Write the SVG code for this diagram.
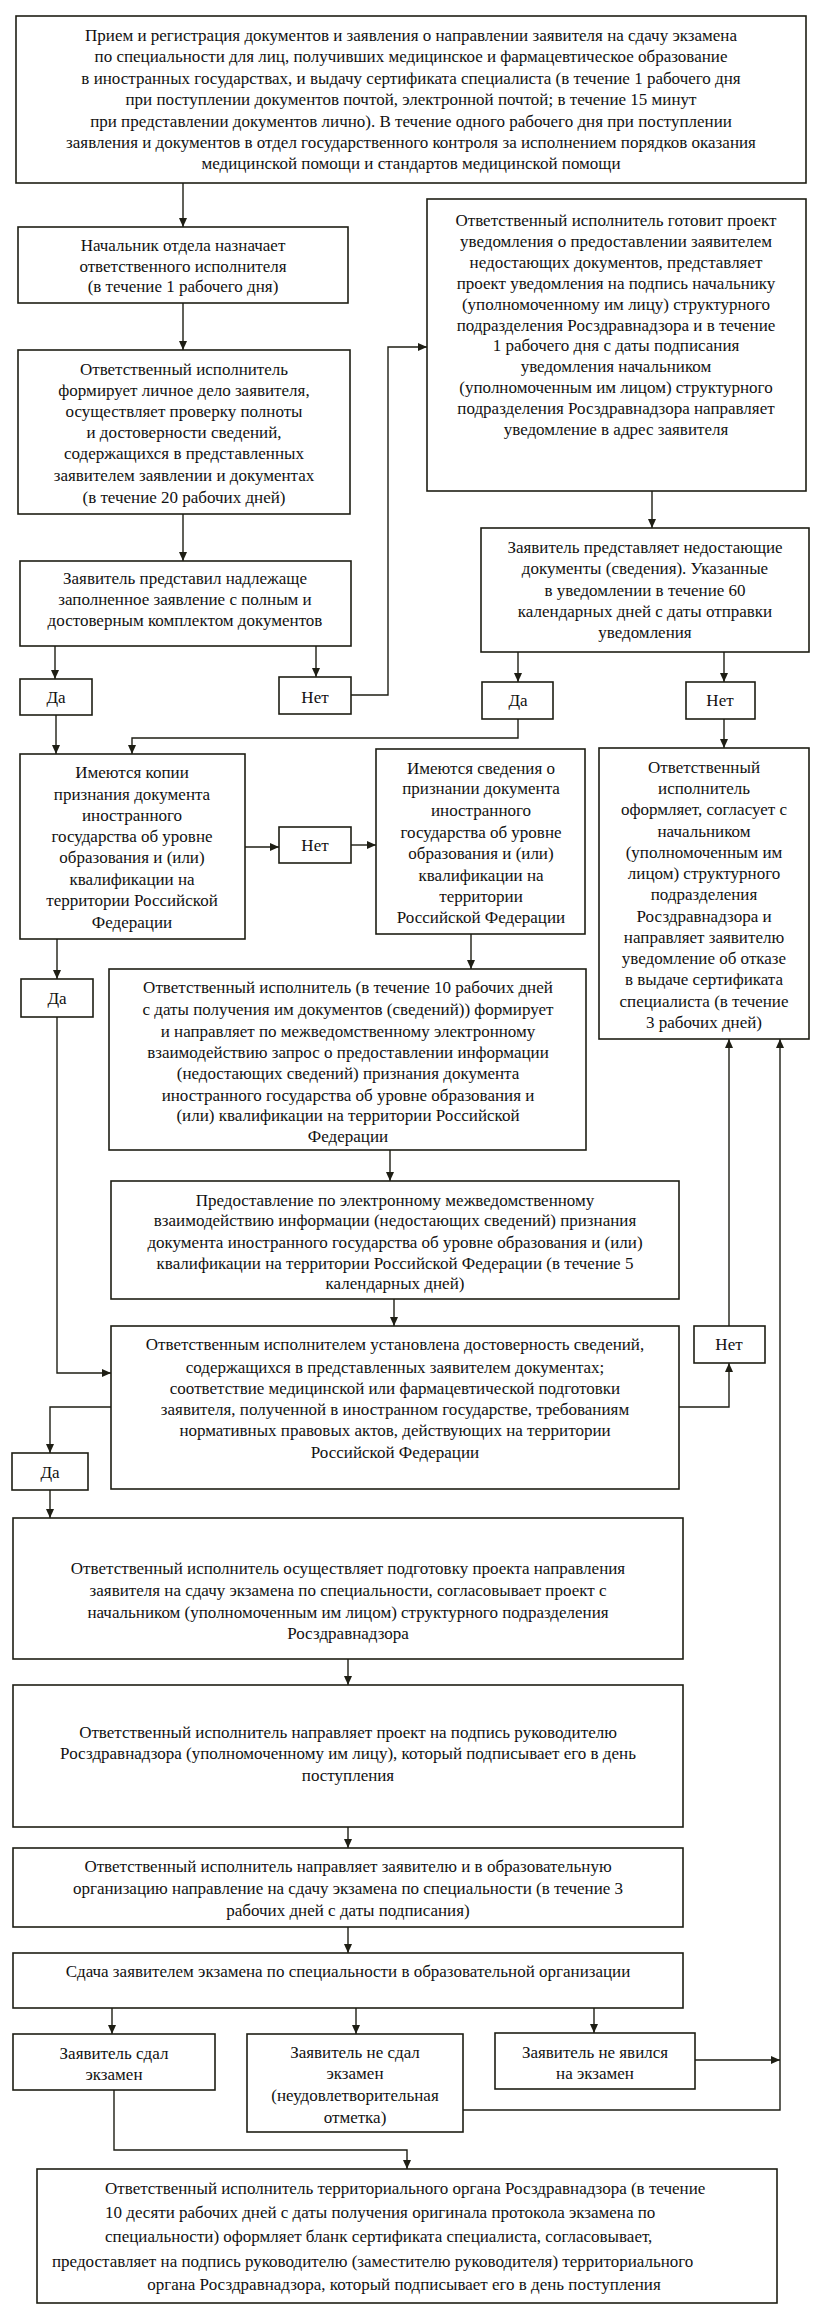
<svg xmlns="http://www.w3.org/2000/svg" width="813" height="2306" viewBox="0 0 813 2306">
<style>
.b{fill:#fff;stroke:#1e1e14;stroke-width:1.6}
.t{font-family:"Liberation Serif","Times New Roman",serif;font-size:17px;fill:#111;text-anchor:middle}
.s{text-anchor:start}
.c{fill:none;stroke:#1e1e14;stroke-width:1.4}
</style>
<defs>
<marker id="a" markerUnits="userSpaceOnUse" markerWidth="9" markerHeight="8" refX="9" refY="4" viewBox="0 0 9 8" orient="auto"><path d="M0,0 L9,4 L0,8 z" fill="#1e1e14"/></marker>
</defs>
<rect width="813" height="2306" fill="#fff"/>
<g id="connectors" class="c" marker-end="url(#a)">
<path d="M183,183 V227"/>
<path d="M183,303 V350"/>
<path d="M183,514 V561"/>
<path d="M55,646 V679"/>
<path d="M316,646 V677"/>
<path d="M351,695 H388 V347 H427"/>
<path d="M652,491 V528"/>
<path d="M518,652 V682"/>
<path d="M724,652 V682"/>
<path d="M56,715 V754"/>
<path d="M518,719 V738 H132 V754"/>
<path d="M724,719 V748"/>
<path d="M245,847 H279"/>
<path d="M351,845 H376"/>
<path d="M57,939 V979"/>
<path d="M471,934 V969"/>
<path d="M57,1017 V1373 H111"/>
<path d="M390,1150 V1181"/>
<path d="M394,1299 V1326"/>
<path d="M679,1407 H729 V1363"/>
<path d="M729,1326 V1039"/>
<path d="M111,1407 H50 V1453"/>
<path d="M50,1490 V1518"/>
<path d="M348,1659 V1685"/>
<path d="M348,1827 V1848"/>
<path d="M348,1927 V1953"/>
<path d="M112,2008 V2034"/>
<path d="M356,2008 V2034"/>
<path d="M594,2008 V2033"/>
<path d="M114,2090 V2150 H407 V2169"/>
<path d="M463,2110 H780 V1039"/>
<path d="M695,2060 H780"/>
</g>
<g id="n1"><rect class="b" x="16" y="16" width="790" height="167"/>
<text class="t" x="411" y="41">Прием и регистрация документов и заявления о направлении заявителя на сдачу экзамена</text>
<text class="t" x="411" y="62">по специальности для лиц, получивших медицинское и фармацевтическое образование</text>
<text class="t" x="411" y="84">в иностранных государствах, и выдачу сертификата специалиста (в течение 1 рабочего дня</text>
<text class="t" x="411" y="105">при поступлении документов почтой, электронной почтой; в течение 15 минут</text>
<text class="t" x="411" y="127">при представлении документов лично). В течение одного рабочего дня при поступлении</text>
<text class="t" x="411" y="148">заявления и документов в отдел государственного контроля за исполнением порядков оказания</text>
<text class="t" x="411" y="169">медицинской помощи и стандартов медицинской помощи</text>
</g>
<g id="n2"><rect class="b" x="18" y="227" width="330" height="76"/>
<text class="t" x="183" y="251">Начальник отдела назначает</text>
<text class="t" x="183" y="272">ответственного исполнителя</text>
<text class="t" x="183" y="292">(в течение 1 рабочего дня)</text>
</g>
<g id="n3"><rect class="b" x="18" y="350" width="332" height="164"/>
<text class="t" x="184" y="375">Ответственный исполнитель</text>
<text class="t" x="184" y="396">формирует личное дело заявителя,</text>
<text class="t" x="184" y="417">осуществляет проверку полноты</text>
<text class="t" x="184" y="438">и достоверности сведений,</text>
<text class="t" x="184" y="459">содержащихся в представленных</text>
<text class="t" x="184" y="481">заявителем заявлении и документах</text>
<text class="t" x="184" y="503">(в течение 20 рабочих дней)</text>
</g>
<g id="n4"><rect class="b" x="427" y="199" width="379" height="292"/>
<text class="t" x="616" y="226">Ответственный исполнитель готовит проект</text>
<text class="t" x="616" y="247">уведомления о предоставлении заявителем</text>
<text class="t" x="616" y="268">недостающих документов, представляет</text>
<text class="t" x="616" y="289">проект уведомления на подпись начальнику</text>
<text class="t" x="616" y="310">(уполномоченному им лицу) структурного</text>
<text class="t" x="616" y="331">подразделения Росздравнадзора и в течение</text>
<text class="t" x="616" y="351">1 рабочего дня с даты подписания</text>
<text class="t" x="616" y="372">уведомления начальником</text>
<text class="t" x="616" y="393">(уполномоченным им лицом) структурного</text>
<text class="t" x="616" y="414">подразделения Росздравнадзора направляет</text>
<text class="t" x="616" y="435">уведомление в адрес заявителя</text>
</g>
<g id="n5"><rect class="b" x="20" y="561" width="331" height="85"/>
<text class="t" x="185" y="584">Заявитель представил надлежаще</text>
<text class="t" x="185" y="605">заполненное заявление с полным и</text>
<text class="t" x="185" y="626">достоверным комплектом документов</text>
</g>
<g id="n6"><rect class="b" x="481" y="528" width="328" height="124"/>
<text class="t" x="645" y="553">Заявитель представляет недостающие</text>
<text class="t" x="645" y="574">документы (сведения). Указанные</text>
<text class="t" x="645" y="596">в уведомлении в течение 60</text>
<text class="t" x="645" y="617">календарных дней с даты отправки</text>
<text class="t" x="645" y="638">уведомления</text>
</g>
<g id="da1"><rect class="b" x="20" y="679" width="72" height="36"/><text class="t" x="56" y="703">Да</text></g>
<g id="net1"><rect class="b" x="279" y="677" width="72" height="37"/><text class="t" x="315" y="703">Нет</text></g>
<g id="da2"><rect class="b" x="482" y="682" width="71" height="37"/><text class="t" x="518" y="706">Да</text></g>
<g id="net2"><rect class="b" x="686" y="682" width="69" height="37"/><text class="t" x="720" y="706">Нет</text></g>
<g id="n7"><rect class="b" x="20" y="754" width="225" height="185"/>
<text class="t" x="132" y="778">Имеются копии</text>
<text class="t" x="132" y="800">признания документа</text>
<text class="t" x="132" y="821">иностранного</text>
<text class="t" x="132" y="842">государства об уровне</text>
<text class="t" x="132" y="863">образования и (или)</text>
<text class="t" x="132" y="885">квалификации на</text>
<text class="t" x="132" y="906">территории Российской</text>
<text class="t" x="132" y="928">Федерации</text>
</g>
<g id="net3"><rect class="b" x="279" y="827" width="72" height="36"/><text class="t" x="315" y="851">Нет</text></g>
<g id="n8"><rect class="b" x="376" y="749" width="209" height="185"/>
<text class="t" x="481" y="774">Имеются сведения о</text>
<text class="t" x="481" y="794">признании документа</text>
<text class="t" x="481" y="816">иностранного</text>
<text class="t" x="481" y="838">государства об уровне</text>
<text class="t" x="481" y="859">образования и (или)</text>
<text class="t" x="481" y="881">квалификации на</text>
<text class="t" x="481" y="902">территории</text>
<text class="t" x="481" y="923">Российской Федерации</text>
</g>
<g id="n9"><rect class="b" x="599" y="748" width="210" height="291"/>
<text class="t" x="704" y="773">Ответственный</text>
<text class="t" x="704" y="794">исполнитель</text>
<text class="t" x="704" y="815">оформляет, согласует с</text>
<text class="t" x="704" y="837">начальником</text>
<text class="t" x="704" y="858">(уполномоченным им</text>
<text class="t" x="704" y="879">лицом) структурного</text>
<text class="t" x="704" y="900">подразделения</text>
<text class="t" x="704" y="922">Росздравнадзора и</text>
<text class="t" x="704" y="943">направляет заявителю</text>
<text class="t" x="704" y="964">уведомление об отказе</text>
<text class="t" x="704" y="985">в выдаче сертификата</text>
<text class="t" x="704" y="1007">специалиста (в течение</text>
<text class="t" x="704" y="1028">3 рабочих дней)</text>
</g>
<g id="da3"><rect class="b" x="21" y="979" width="72" height="38"/><text class="t" x="57" y="1004">Да</text></g>
<g id="n10"><rect class="b" x="109" y="969" width="477" height="181"/>
<text class="t" x="348" y="993">Ответственный исполнитель (в течение 10 рабочих дней</text>
<text class="t" x="348" y="1015">с даты получения им документов (сведений)) формирует</text>
<text class="t" x="348" y="1037">и направляет по межведомственному электронному</text>
<text class="t" x="348" y="1058">взаимодействию запрос о предоставлении информации</text>
<text class="t" x="348" y="1079">(недостающих сведений) признания документа</text>
<text class="t" x="348" y="1101">иностранного государства об уровне образования и</text>
<text class="t" x="348" y="1121">(или) квалификации на территории Российской</text>
<text class="t" x="348" y="1142">Федерации</text>
</g>
<g id="n11"><rect class="b" x="111" y="1181" width="568" height="118"/>
<text class="t" x="395" y="1206">Предоставление по электронному межведомственному</text>
<text class="t" x="395" y="1226">взаимодействию информации (недостающих сведений) признания</text>
<text class="t" x="395" y="1248">документа иностранного государства об уровне образования и (или)</text>
<text class="t" x="395" y="1269">квалификации на территории Российской Федерации (в течение 5</text>
<text class="t" x="395" y="1289">календарных дней)</text>
</g>
<g id="n12"><rect class="b" x="111" y="1326" width="568" height="163"/>
<text class="t" x="395" y="1350">Ответственным исполнителем установлена достоверность сведений,</text>
<text class="t" x="395" y="1373">содержащихся в представленных заявителем документах;</text>
<text class="t" x="395" y="1394">соответствие медицинской или фармацевтической подготовки</text>
<text class="t" x="395" y="1415">заявителя, полученной в иностранном государстве, требованиям</text>
<text class="t" x="395" y="1436">нормативных правовых актов, действующих на территории</text>
<text class="t" x="395" y="1458">Российской Федерации</text>
</g>
<g id="net4"><rect class="b" x="694" y="1326" width="71" height="37"/><text class="t" x="729" y="1350">Нет</text></g>
<g id="da4"><rect class="b" x="12" y="1453" width="76" height="37"/><text class="t" x="50" y="1478">Да</text></g>
<g id="n13"><rect class="b" x="13" y="1518" width="670" height="141"/>
<text class="t" x="348" y="1574">Ответственный исполнитель осуществляет подготовку проекта направления</text>
<text class="t" x="348" y="1596">заявителя на сдачу экзамена по специальности, согласовывает проект с</text>
<text class="t" x="348" y="1618">начальником (уполномоченным им лицом) структурного подразделения</text>
<text class="t" x="348" y="1639">Росздравнадзора</text>
</g>
<g id="n14"><rect class="b" x="13" y="1685" width="670" height="142"/>
<text class="t" x="348" y="1738">Ответственный исполнитель направляет проект на подпись руководителю</text>
<text class="t" x="348" y="1759">Росздравнадзора (уполномоченному им лицу), который подписывает его в день</text>
<text class="t" x="348" y="1781">поступления</text>
</g>
<g id="n15"><rect class="b" x="13" y="1848" width="670" height="79"/>
<text class="t" x="348" y="1872">Ответственный исполнитель направляет заявителю и в образовательную</text>
<text class="t" x="348" y="1894">организацию направление на сдачу экзамена по специальности (в течение 3</text>
<text class="t" x="348" y="1916">рабочих дней с даты подписания)</text>
</g>
<g id="n16"><rect class="b" x="13" y="1953" width="670" height="55"/>
<text class="t" x="348" y="1977">Сдача заявителем экзамена по специальности в образовательной организации</text>
</g>
<g id="n17"><rect class="b" x="13" y="2034" width="202" height="56"/>
<text class="t" x="114" y="2059">Заявитель сдал</text>
<text class="t" x="114" y="2080">экзамен</text>
</g>
<g id="n18"><rect class="b" x="247" y="2034" width="216" height="98"/>
<text class="t" x="355" y="2058">Заявитель не сдал</text>
<text class="t" x="355" y="2079">экзамен</text>
<text class="t" x="355" y="2101">(неудовлетворительная</text>
<text class="t" x="355" y="2123">отметка)</text>
</g>
<g id="n19"><rect class="b" x="495" y="2033" width="200" height="56"/>
<text class="t" x="595" y="2058">Заявитель не явился</text>
<text class="t" x="595" y="2079">на экзамен</text>
</g>
<g id="n20"><rect class="b" x="37" y="2169" width="740" height="134"/>
<text class="t s" x="105" y="2194">Ответственный исполнитель территориального органа Росздравнадзора (в течение</text>
<text class="t s" x="105" y="2218">10 десяти рабочих дней с даты получения оригинала протокола экзамена по</text>
<text class="t s" x="105" y="2242">специальности) оформляет бланк сертификата специалиста, согласовывает,</text>
<text class="t s" x="52" y="2267">предоставляет на подпись руководителю (заместителю руководителя) территориального</text>
<text class="t" x="404" y="2290">органа Росздравнадзора, который подписывает его в день поступления</text>
</g>
</svg>
